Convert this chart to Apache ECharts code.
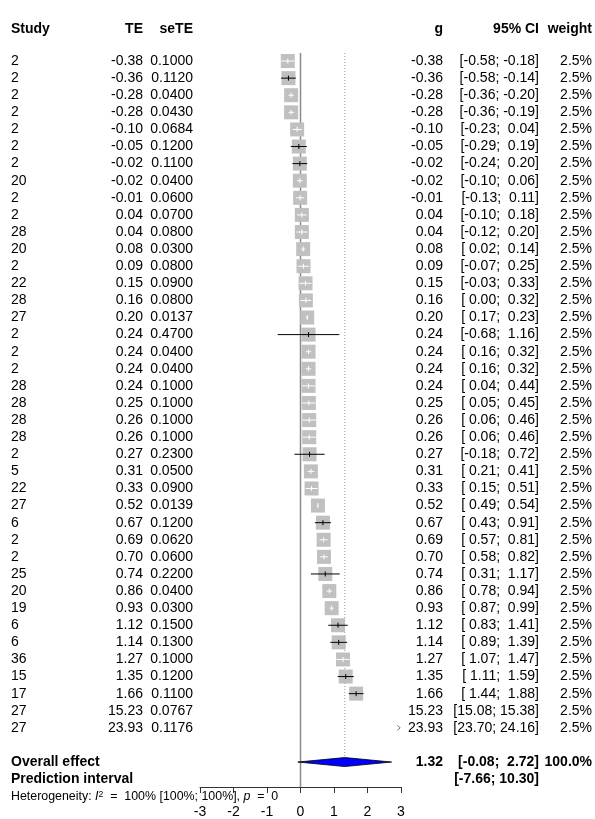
<!DOCTYPE html>
<html>
<head>
<meta charset="utf-8">
<script src="https://cdn.jsdelivr.net/npm/echarts@6/dist/echarts.min.js"></script>
<style>
  html, body { margin: 0; padding: 0; background: #ffffff; }
  #chart { width: 595px; height: 819px; }
</style>
</head>
<body>
<div id="chart"></div>
<script>
// ---- study data (Hedges' g per study) ----
const studyIds = [2, 2, 2, 2, 2, 2, 2, 20, 2, 2, 28, 20, 2, 22, 28, 27, 2, 2, 2, 28,
                  28, 28, 28, 2, 5, 22, 27, 6, 2, 2, 25, 20, 19, 6, 6, 36, 15, 17, 27, 27];
const effectTE = [-0.38, -0.36, -0.28, -0.28, -0.10, -0.05, -0.02, -0.02, -0.01, 0.04,
                  0.04, 0.08, 0.09, 0.15, 0.16, 0.20, 0.24, 0.24, 0.24, 0.24,
                  0.25, 0.26, 0.26, 0.27, 0.31, 0.33, 0.52, 0.67, 0.69, 0.70,
                  0.74, 0.86, 0.93, 1.12, 1.14, 1.27, 1.35, 1.66, 15.23, 23.93];
const standardErr = [0.1000, 0.1120, 0.0400, 0.0430, 0.0684, 0.1200, 0.1100, 0.0400, 0.0600, 0.0700,
                     0.0800, 0.0300, 0.0800, 0.0900, 0.0800, 0.0137, 0.4700, 0.0400, 0.0400, 0.1000,
                     0.1000, 0.1000, 0.1000, 0.2300, 0.0500, 0.0900, 0.0139, 0.1200, 0.0620, 0.0600,
                     0.2200, 0.0400, 0.0300, 0.1500, 0.1300, 0.1000, 0.1200, 0.1100, 0.0767, 0.1176];
const ciLower = [-0.58, -0.58, -0.36, -0.36, -0.23, -0.29, -0.24, -0.10, -0.13, -0.10,
                 -0.12, 0.02, -0.07, -0.03, 0.00, 0.17, -0.68, 0.16, 0.16, 0.04,
                 0.05, 0.06, 0.06, -0.18, 0.21, 0.15, 0.49, 0.43, 0.57, 0.58,
                 0.31, 0.78, 0.87, 0.83, 0.89, 1.07, 1.11, 1.44, 15.08, 23.70];
const ciUpper = [-0.18, -0.14, -0.20, -0.19, 0.04, 0.19, 0.20, 0.06, 0.11, 0.18,
                 0.20, 0.14, 0.25, 0.33, 0.32, 0.23, 1.16, 0.32, 0.32, 0.44,
                 0.45, 0.46, 0.46, 0.72, 0.41, 0.51, 0.54, 0.91, 0.81, 0.82,
                 1.17, 0.94, 0.99, 1.41, 1.39, 1.47, 1.59, 1.88, 15.38, 24.16];
const weightPct = [2.5, 2.5, 2.5, 2.5, 2.5, 2.5, 2.5, 2.5, 2.5, 2.5,
                   2.5, 2.5, 2.5, 2.5, 2.5, 2.5, 2.5, 2.5, 2.5, 2.5,
                   2.5, 2.5, 2.5, 2.5, 2.5, 2.5, 2.5, 2.5, 2.5, 2.5,
                   2.5, 2.5, 2.5, 2.5, 2.5, 2.5, 2.5, 2.5, 2.5, 2.5];

// ---- pooled results ----
const overallEffect = [1.32, -0.08, 2.72];   // estimate, lower, upper
const overallWeight = 100.0;
const predictionInterval = [-7.66, 10.30];
const heterogeneity = { i2: '100%', i2Lower: '100%', i2Upper: '100%', p: '0' };

// ---- axis ----
const xTicks = [-3, -2, -1, 0, 1, 2, 3];

// ---- layout ----
const FONT = '"Liberation Sans", Arial, Helvetica, sans-serif';
const FS = 14;
const FS_HET = 12.4;
const ROW_HEADER = -0.85;
const ROW_OVERALL = studyIds.length + 2;
const ROW_PRED = studyIds.length + 3;
const ROW_HET = studyIds.length + 4;
const Y_TOP = 0.53;
const Y_BOTTOM = 43.46;
const SQUARE = 14;
const COLS = {
  study: { x: 11, align: 'left' },
  te: { x: 143, align: 'right' },
  se: { x: 193, align: 'right' },
  g: { x: 443, align: 'right' },
  ci: { x: 539, align: 'right' },
  w: { x: 592, align: 'right' }
};

function fmtCI(lo, hi) {
  return '[' + lo.toFixed(2).padStart(5) + '; ' + hi.toFixed(2).padStart(5) + ']';
}

// ---- table text rows ----
const tableRows = [];
tableRows.push({ row: ROW_HEADER, cells: [
  { col: 'study', text: 'Study', bold: true },
  { col: 'te', text: 'TE', bold: true },
  { col: 'se', text: 'seTE', bold: true },
  { col: 'g', text: 'g', bold: true },
  { col: 'ci', text: '95% CI', bold: true },
  { col: 'w', text: 'weight', bold: true }
]});
studyIds.forEach((id, i) => {
  tableRows.push({ row: i + 1, cells: [
    { col: 'study', text: String(id) },
    { col: 'te', text: effectTE[i].toFixed(2) },
    { col: 'se', text: standardErr[i].toFixed(4) },
    { col: 'g', text: effectTE[i].toFixed(2) },
    { col: 'ci', text: fmtCI(ciLower[i], ciUpper[i]) },
    { col: 'w', text: weightPct[i].toFixed(1) + '%' }
  ]});
});
tableRows.push({ row: ROW_OVERALL, cells: [
  { col: 'study', text: 'Overall effect', bold: true },
  { col: 'g', text: overallEffect[0].toFixed(2), bold: true },
  { col: 'ci', text: fmtCI(overallEffect[1], overallEffect[2]), bold: true },
  { col: 'w', text: overallWeight.toFixed(1) + '%', bold: true }
]});
tableRows.push({ row: ROW_PRED, cells: [
  { col: 'study', text: 'Prediction interval', bold: true },
  { col: 'ci', text: fmtCI(predictionInterval[0], predictionInterval[1]), bold: true }
]});
tableRows.push({ row: ROW_HET, cells: [
  { col: 'study',
    text: 'Heterogeneity: {i|I}{s|2}  =  ' + heterogeneity.i2 + ' [' + heterogeneity.i2Lower + '; ' +
          heterogeneity.i2Upper + '], {i|p}  =  ' + heterogeneity.p,
    size: FS_HET, rich: true }
]});

const xMin = xTicks[0], xMax = xTicks[xTicks.length - 1];
const maxTE = Math.max.apply(null, effectTE);

const chart = echarts.init(document.getElementById('chart'), null, { renderer: 'canvas' });

const option = {
  animation: false,
  backgroundColor: '#ffffff',
  grid: { left: 200, right: 194, top: 53, bottom: 32, containLabel: false },
  xAxis: {
    type: 'value', min: xMin, max: xMax, interval: 1,
    axisLine: { show: true, lineStyle: { color: '#333', width: 1 } },
    axisTick: { show: true, length: 6, lineStyle: { color: '#333', width: 1 } },
    axisLabel: { color: '#000', fontFamily: FONT, fontSize: FS, margin: 18 },
    splitLine: { show: false }
  },
  yAxis: {
    type: 'value', inverse: true, min: Y_TOP, max: Y_BOTTOM, show: false
  },
  series: [
    // reference line at zero effect
    {
      type: 'custom', silent: true, clip: false,
      data: [[0]],
      renderItem: (params, api) => {
        const a = api.coord([0, Y_TOP]);
        const b = api.coord([0, Y_BOTTOM]);
        return { type: 'line', shape: { x1: a[0], y1: a[1], x2: b[0], y2: b[1] },
                 style: { stroke: '#8a8a8a', lineWidth: 1.5 } };
      }
    },
    // dotted line at the pooled estimate
    {
      type: 'custom', silent: true, clip: false,
      data: [[overallEffect[0]]],
      renderItem: (params, api) => {
        const a = api.coord([api.value(0), Y_TOP]);
        const b = api.coord([api.value(0), ROW_OVERALL]);
        return { type: 'line', shape: { x1: a[0], y1: a[1], x2: b[0], y2: b[1] - 5 },
                 style: { stroke: '#999', lineWidth: 1, lineDash: [1, 2] } };
      }
    },
    // study squares with confidence intervals
    {
      type: 'custom', silent: true, clip: false,
      data: effectTE.map((v, i) => [v, ciLower[i], ciUpper[i], i + 1]),
      renderItem: (params, api) => {
        const te = api.value(0), lo = api.value(1), hi = api.value(2), row = api.value(3);
        const children = [];
        const y = api.coord([0, row])[1];
        if (te > xMax || te < xMin) {
          // small marker at the right edge for the estimate furthest off the scale
          if (te === maxTE) {
            const ax = api.coord([xMax, row])[0] - 1;
            children.push({ type: 'polyline',
              shape: { points: [[ax - 2.5, y - 2.5], [ax, y], [ax - 2.5, y + 2.5]] },
              style: { stroke: '#555', lineWidth: 0.9, fill: null } });
          }
          return { type: 'group', children };
        }
        const c = api.coord([te, row]);
        const xl = api.coord([Math.max(lo, xMin), row])[0];
        const xh = api.coord([Math.min(hi, xMax), row])[0];
        // interval drawn white when it fits inside the square, black otherwise
        const col = (xh - xl) > SQUARE ? '#000' : '#ffffff';
        children.push({ type: 'rect',
          shape: { x: c[0] - SQUARE / 2, y: y - SQUARE / 2, width: SQUARE, height: SQUARE },
          style: { fill: '#c0c0c0' } });
        children.push({ type: 'line', shape: { x1: xl, y1: y, x2: xh, y2: y },
          style: { stroke: col, lineWidth: 1 } });
        children.push({ type: 'line', shape: { x1: c[0], y1: y - 2.5, x2: c[0], y2: y + 2.5 },
          style: { stroke: col, lineWidth: 1 } });
        return { type: 'group', children };
      }
    },
    // pooled effect diamond
    {
      type: 'custom', silent: true, clip: false,
      data: [[overallEffect[0], overallEffect[1], overallEffect[2], ROW_OVERALL]],
      renderItem: (params, api) => {
        const row = api.value(3);
        const m = api.coord([api.value(0), row]);
        const l = api.coord([api.value(1), row]);
        const r = api.coord([api.value(2), row]);
        const h = 4.5;
        return { type: 'polygon',
          shape: { points: [[l[0], m[1]], [m[0], m[1] - h], [r[0], m[1]], [m[0], m[1] + h]] },
          style: { fill: '#0000ff', stroke: '#000', lineWidth: 0.8 } };
      }
    },
    // table columns
    {
      type: 'custom', silent: true, clip: false,
      data: tableRows.map(r => [0, r.row]),
      renderItem: (params, api) => {
        const t = tableRows[params.dataIndex];
        const y = api.coord([0, api.value(1)])[1];
        return {
          type: 'group',
          children: t.cells.map(cell => {
            const size = cell.size || FS;
            const style = {
              x: COLS[cell.col].x, y: y, text: cell.text,
              align: COLS[cell.col].align, verticalAlign: 'middle',
              fontFamily: FONT, fontSize: size,
              fontWeight: cell.bold ? 'bold' : 'normal', fill: '#000'
            };
            if (cell.rich) {
              style.rich = {
                i: { fontStyle: 'italic', fontFamily: FONT, fontSize: size, fill: '#000' },
                s: { fontFamily: FONT, fontSize: size * 0.7, fill: '#000', verticalAlign: 'top' }
              };
            }
            return { type: 'text', style };
          })
        };
      }
    }
  ]
};

chart.setOption(option);
</script>
</body>
</html>
